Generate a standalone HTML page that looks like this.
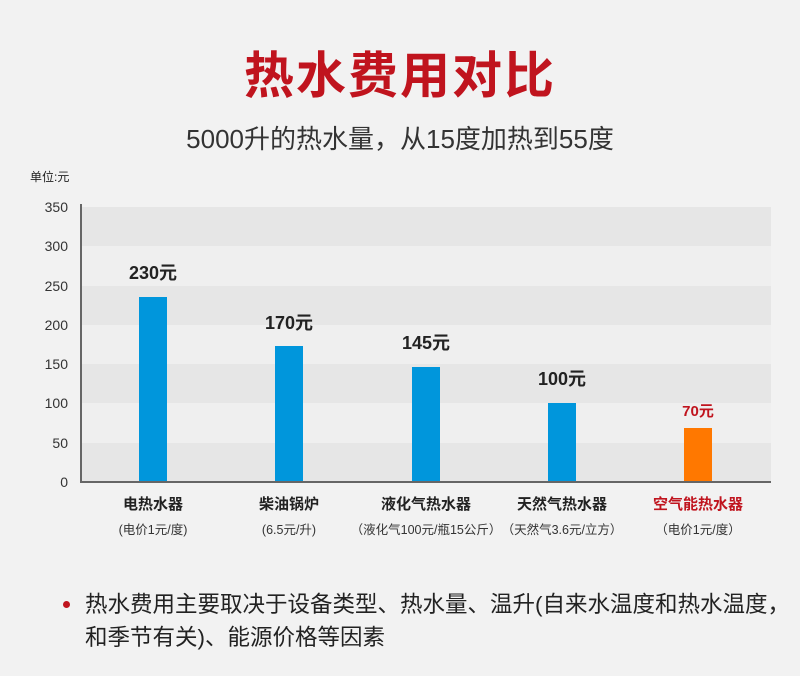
<!DOCTYPE html>
<html><head><meta charset="utf-8"><style>
body{margin:0;width:800px;height:676px;background:#f2f2f2;font-family:"Liberation Sans","Noto Sans CJK SC",sans-serif;position:relative;overflow:hidden}
.a{position:absolute;white-space:nowrap}
.band{position:absolute;left:82px;width:689px}
.bar{position:absolute;width:28px;background:#0096dc}
.yl{position:absolute;left:30px;width:38px;text-align:right;font-size:14px;color:#333}
.lab{position:absolute;width:160px;text-align:center;font-size:15px;font-weight:bold;color:#222}
.sub{position:absolute;width:160px;text-align:center;font-size:12.5px;color:#333}
.val{position:absolute;width:120px;text-align:center;font-size:18px;font-weight:bold;color:#222}
</style></head><body>
<div class="a" style="left:0;width:800px;top:36px;text-align:center;font-size:50px;font-weight:bold;color:#c0141e;letter-spacing:2px">热水费用对比</div>
<div class="a" style="left:0;width:800px;top:119px;text-align:center;font-size:26px;color:#333">5000升的热水量，从15度加热到55度</div>
<div class="a" style="left:30px;top:168px;font-size:12px;color:#222">单位:元</div>
<div class="band" style="top:207px;height:39px;background:#e6e6e6"></div>
<div class="band" style="top:246px;height:40px;background:#efefef"></div>
<div class="band" style="top:286px;height:39px;background:#e6e6e6"></div>
<div class="band" style="top:325px;height:39px;background:#efefef"></div>
<div class="band" style="top:364px;height:39px;background:#e6e6e6"></div>
<div class="band" style="top:403px;height:40px;background:#efefef"></div>
<div class="band" style="top:443px;height:39px;background:#e6e6e6"></div>
<div class="a" style="left:80px;top:204px;width:2px;height:279px;background:#666"></div>
<div class="a" style="left:80px;top:481px;width:691px;height:2px;background:#666"></div>
<div class="yl" style="top:199px">350</div>
<div class="yl" style="top:238px">300</div>
<div class="yl" style="top:278px">250</div>
<div class="yl" style="top:317px">200</div>
<div class="yl" style="top:356px">150</div>
<div class="yl" style="top:395px">100</div>
<div class="yl" style="top:435px">50</div>
<div class="yl" style="top:474px">0</div>
<div class="bar" style="left:139px;top:297px;height:184px"></div>
<div class="bar" style="left:275px;top:346px;height:135px"></div>
<div class="bar" style="left:412px;top:367px;height:114px"></div>
<div class="bar" style="left:548px;top:403px;height:78px"></div>
<div class="bar" style="left:684px;top:428px;height:53px;background:#ff7800"></div>
<div class="val" style="left:93px;top:259px">230元</div>
<div class="val" style="left:229px;top:309px">170元</div>
<div class="val" style="left:366px;top:329px">145元</div>
<div class="val" style="left:502px;top:365px">100元</div>
<div class="val" style="left:638px;top:400px;font-size:15px;color:#c0141e">70元</div>
<div class="lab" style="left:73px;top:493px">电热水器</div>
<div class="lab" style="left:209px;top:493px">柴油锅炉</div>
<div class="lab" style="left:346px;top:493px">液化气热水器</div>
<div class="lab" style="left:482px;top:493px">天然气热水器</div>
<div class="lab" style="left:618px;top:493px;color:#c0141e">空气能热水器</div>
<div class="sub" style="left:73px;top:519px">(电价1元/度)</div>
<div class="sub" style="left:209px;top:519px">(6.5元/升)</div>
<div class="sub" style="left:346px;top:519px">（液化气100元/瓶15公斤）</div>
<div class="sub" style="left:482px;top:519px">（天然气3.6元/立方）</div>
<div class="sub" style="left:618px;top:519px">（电价1元/度）</div>
<div class="a" style="left:63px;top:601px;width:7px;height:7px;border-radius:50%;background:#c0141e"></div>
<div class="a" style="left:85px;top:588px;font-size:22.5px;color:#222;line-height:33px">热水费用主要取决于设备类型、热水量、温升(自来水温度和热水温度，<br>和季节有关)、能源价格等因素</div>
</body></html>
